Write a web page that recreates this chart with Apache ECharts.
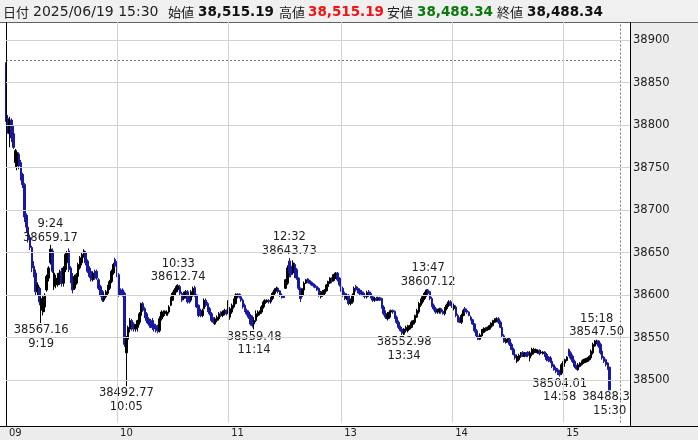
<!DOCTYPE html>
<html><head><meta charset="utf-8">
<script src="https://cdn.jsdelivr.net/npm/echarts@6/dist/echarts.min.js"></script>
<style>html,body{margin:0;padding:0;background:#fff}#c{width:698px;height:440px}</style>
</head><body><div id="c"></div><script>
// ---------- data ----------
const sessionRanges = [['09:00','11:30'],['12:30','15:24'],['15:30','15:30']];
const paddingRange = ['15:31','15:41'];
// each candle: [open, close, low, high]
const candles = [
[38871,38808,38804,38874],[38808,38798,38790,38812],[38790,38806,38774,38810],[38806,38785,38780,38808],[38790,38774,38772,38800],[38756,38770,38750,38772],[38752,38768,38747,38770],[38766,38752,38748,38768],[38756,38740,38735,38759],[38742,38730,38726,38744],
[38730,38692,38686,38732],[38694,38680,38674,38696],[38680,38668,38662,38684],[38668,38656,38653,38671],[38656,38632,38627,38658],[38634,38624,38621,38640],[38626,38604,38600,38630],[38604,38612,38600,38615],[38608,38592,38588,38610],[38582,38596,38567.16,38598],
[38580,38598,38576,38600],[38586,38600,38580,38602],[38606,38622,38604,38624],[38620,38632,38616,38634],[38638,38654,38636,38659.17],[38652,38628,38626,38655],[38610,38626,38606,38630],[38612,38620,38608,38624],[38612,38624,38610,38626],[38614,38626,38612,38630],
[38628,38614,38610,38632],[38614,38632,38610,38634],[38630,38648,38627,38650],[38638,38650,38635,38652],[38652,38630,38627,38655],[38632,38618,38614,38634],[38620,38606,38602,38626],[38608,38622,38606,38624],[38614,38624,38612,38626],[38622,38636,38620,38638],
[38632,38644,38630,38646],[38638,38648,38635,38650],[38646,38652,38644,38654],[38650,38638,38635,38652],[38640,38628,38626,38642],[38630,38622,38620,38634],[38628,38618,38616,38632],[38618,38626,38616,38628],[38628,38620,38618,38630],[38628,38620,38618,38630],
[38618,38608,38606,38620],[38610,38600,38598,38612],[38604,38594,38592,38606],[38594,38600,38592,38602],[38598,38604,38596,38606],[38602,38610,38600,38612],[38608,38616,38606,38618],[38616,38628,38614,38630],[38626,38636,38624,38638],[38642,38634,38632,38644],
[38638,38624,38621,38640],[38624,38600,38598,38626],[38606,38602,38600,38608],[38606,38600,38598,38608],[38602,38542,38539,38604],[38532,38550,38492.77,38552],[38548,38562,38545,38564],[38560,38570,38556,38573],[38570,38560,38558,38572],[38566,38560,38557,38568],
[38560,38564,38557,38566],[38562,38570,38557,38571],[38568,38578,38565,38580],[38576,38590,38574,38591],[38590,38582,38580,38592],[38584,38576,38573,38586],[38578,38570,38567,38580],[38572,38566,38564,38574],[38568,38562,38561,38572],[38570,38562,38559,38573],
[38566,38560,38557,38568],[38564,38558,38556,38566],[38562,38557,38555,38565],[38558,38572,38556,38575],[38572,38580,38570,38582],[38576,38580,38574,38582],[38578,38581,38576,38582],[38576,38580,38576,38582],[38580,38586,38578,38588],[38588,38596,38587,38598],
[38594,38602,38593,38604],[38600,38606,38599,38608],[38604,38610,38603,38612],[38606,38611,38604,38612.74],[38610,38602,38600,38612],[38602,38594,38592,38604],[38596,38602,38594,38604],[38598,38604,38596,38606],[38604,38592,38590,38606],[38596,38592,38590,38600],
[38594,38604,38592,38606],[38600,38608,38598,38610],[38609,38600,38598,38611],[38600,38586,38585,38601],[38588,38576,38574,38589],[38580,38576,38574,38584],[38576,38582,38574,38584],[38584,38594,38583,38596],[38594,38588,38586,38596],[38590,38582,38580,38592],
[38584,38578,38576,38586],[38578,38570,38568,38580],[38572,38568,38566,38574],[38566,38572,38565,38574],[38570,38574,38568,38576],[38572,38578,38570,38580],[38580,38576,38574,38581],[38576,38580,38574,38582],[38578,38582,38576,38584],[38582,38578,38576,38583],
[38580,38592,38578,38594],[38574,38584,38571,38586],[38580,38588,38578,38590],[38586,38594,38584,38596],[38590,38600,38589,38602],[38598,38601,38596,38602],[38601,38598,38596,38602],[38598,38594,38592,38600],[38594,38586,38584,38596],[38588,38582,38580,38590],
[38582,38578,38576,38584],[38580,38574,38572,38582],[38576,38566,38564,38578],[38572,38564,38562,38576],[38566,38570,38559.48,38574],[38570,38578,38568,38582],[38576,38580,38574,38582],[38578,38580,38576,38582],[38580,38586,38578,38588],[38586,38592,38584,38594],
[38590,38594,38588,38595],[38592,38594,38591,38595],[38594,38592,38590,38595],[38592,38596,38590,38598],[38596,38602,38594,38604],[38602,38606,38600,38608],[38606,38608,38604,38610],[38608,38604,38602,38609],[38605,38600,38598,38606],[38600,38598,38596,38602],
[38599,38597,38597,38599],
[38608,38618,38607,38619],[38614,38632,38612,38635],[38640,38626,38621,38643.73],[38634,38624,38621,38638],[38626,38638,38624,38641],[38636,38624,38620,38638],[38630,38620,38618,38632],[38620,38608,38606,38621],[38608,38596,38592,38609],[38600,38606,38598,38608],
[38606,38614,38604,38616],[38614,38618,38613,38619],[38619,38616,38614,38620],[38617,38614,38613,38618],[38615,38612,38611,38616],[38613,38611,38609,38614],[38612,38609,38608,38613],[38610,38606,38605,38611],[38608,38600,38598,38609],[38598,38603,38596,38605],
[38600,38604,38598,38606],[38602,38606,38600,38607],[38605,38612,38604,38613],[38610,38616,38608,38617],[38614,38620,38613,38621],[38620,38616,38614,38621],[38617,38624,38616,38625],[38620,38626,38619,38627],[38626,38618,38616,38627],[38620,38612,38610,38621],
[38612,38606,38604,38614],[38608,38600,38598,38610],[38602,38596,38594,38604],[38596,38600,38594,38602],[38600,38590,38588,38601],[38590,38594,38588,38596],[38592,38600,38590,38602],[38600,38608,38598,38610],[38610,38606,38604,38612],[38608,38604,38602,38610],
[38606,38602,38600,38608],[38604,38601,38600,38606],[38602,38599,38598,38604],[38600,38598,38596,38602],[38598,38603,38596,38605],[38604,38600,38598,38606],[38602,38598,38596,38604],[38598,38594,38592,38600],[38594,38596,38592,38598],[38596,38594,38593,38598],
[38594,38597,38593,38598],[38597,38594,38593,38598],[38596,38586,38584,38597],[38586,38578,38576,38588],[38578,38574,38572,38582],[38572,38578,38570,38580],[38574,38580,38572,38582],[38580,38582,38578,38583],[38582,38580,38578,38583],[38581,38574,38572,38582],
[38574,38568,38566,38576],[38568,38562,38560,38570],[38562,38558,38557,38564],[38560,38555,38553,38562],[38554,38560,38552.98,38561],[38558,38562,38556,38564],[38558,38563,38556,38565],[38560,38564,38559,38565],[38562,38568,38561,38570],[38566,38570,38565,38571],
[38568,38576,38566,38577],[38574,38582,38573,38584],[38580,38590,38578,38592],[38588,38594,38586,38596],[38592,38598,38590,38600],[38596,38602,38594,38604],[38600,38606,38598,38606.5],[38606,38602,38600,38607.12],[38604,38596,38594,38605],[38596,38588,38586,38598],
[38588,38584,38582,38590],[38584,38580,38578,38586],[38580,38582,38578,38584],[38580,38584,38578,38585],[38584,38580,38578,38585],[38581,38578,38577,38583],[38578,38584,38576,38586],[38584,38588,38582,38590],[38588,38592,38586,38594],[38592,38588,38587,38594],
[38590,38586,38585,38592],[38584,38588,38582,38590],[38586,38576,38574,38588],[38576,38570,38568,38578],[38572,38568,38567,38574],[38568,38576,38566,38578],[38576,38582,38575,38584],[38584,38580,38578,38586],[38582,38580,38578,38584],[38580,38576,38575,38581],
[38574,38571,38570,38576],[38571,38566,38565,38572],[38566,38558,38556,38567],[38558,38552,38550,38560],[38552,38548,38547,38554],[38548,38553,38547,38555],[38552,38558,38551,38560],[38556,38560,38555,38562],[38558,38561,38557,38562],[38559,38562,38558,38563],
[38560,38564,38559,38565],[38562,38567,38561,38568],[38564,38570,38563,38571],[38568,38572,38567,38573],[38570,38572,38568,38574],[38572,38568,38566,38574],[38568,38562,38561,38570],[38562,38552,38550,38564],[38552,38545,38544,38554],[38544,38548,38543,38550],
[38546,38549,38544,38550],[38548,38542,38540,38550],[38542,38536,38535,38544],[38536,38530,38529,38538],[38530,38526,38524,38532],[38522,38528,38520,38530],[38524,38529,38522,38531],[38528,38532,38526,38533],[38532,38528,38527,38534],[38528,38532,38527,38533],
[38532,38529,38527,38533],[38533,38529,38527,38534],[38526,38532,38522,38534],[38530,38536,38528,38538],[38532,38536,38530,38538],[38533,38536,38532,38537],[38532,38535,38531,38536],[38535,38531,38529,38536],[38532,38533,38531,38535],[38531,38533,38530,38534],
[38533,38528,38527,38534],[38530,38524,38522,38532],[38527,38523,38521,38528],[38526,38522,38520,38528],[38522,38516,38514,38523],[38518,38512,38511,38519],[38514,38510,38508,38516],[38512,38508,38506,38514],[38510,38506,38504.01,38512],[38508,38518,38506,38520],
[38516,38522,38514,38524],[38520,38524,38519,38525],[38523,38527,38522,38528],[38536,38530,38528,38537],[38532,38526,38524,38534],[38528,38522,38520,38530],[38522,38516,38514,38524],[38516,38513,38512,38518],[38512,38518,38511,38520],[38516,38520,38515,38521],
[38518,38522,38517,38523],[38520,38524,38519,38525],[38521,38525,38520,38526],[38522,38526,38521,38527],[38524,38528,38523,38529],[38526,38534,38525,38536],[38532,38542,38530,38544],[38540,38546,38539,38547],[38544,38546,38542,38547.5],[38546,38540,38538,38547],
[38542,38532,38530,38544],[38534,38526,38524,38535],[38527,38522,38520,38528],[38524,38518,38516,38525],[38520,38514,38512,38521],[38515.19,38488.34,38488.34,38515.19]
];
const hourTicks = ['09:00','10:00','11:00','13:00','14:00','15:00'];
const yTickValues = [38500,38550,38600,38650,38700,38750,38800,38850,38900];
const prevLineValue = 38876;
const cursorTime = '15:36';
const markTimes  = ['09:24','10:33','12:32','13:47','15:18','09:19','10:05','11:14','13:34','14:58','15:30'];
const markValues = [38659.17,38612.74,38643.73,38607.12,38547.50,38567.16,38492.77,38559.48,38552.98,38504.01,38488.34];
const markKinds  = ['high','high','high','high','high','low','low','low','low','low','low'];
const headerLabels = ['日付','始値','高値','安値','終値'];
const headerValues = ['2025/06/19 15:30','38,515.19','38,515.19','38,488.34','38,488.34'];
const headerColors = ['#222222','#111111','#f01414','#0a780a','#111111'];

// ---------- build ----------
function minuteRange(a, b) {
  const out = [];
  let [h, m] = a.split(':').map(Number);
  const [eh, em] = b.split(':').map(Number);
  while (h * 60 + m <= eh * 60 + em) {
    out.push(String(h).padStart(2, '0') + ':' + String(m).padStart(2, '0'));
    m++; if (m === 60) { m = 0; h++; }
  }
  return out;
}
const times = [].concat(...sessionRanges.map(r => minuteRange(r[0], r[1])));
const categories = times.concat(minuteRange(paddingRange[0], paddingRange[1]));
if (times.length !== candles.length) console.error('length mismatch', times.length, candles.length);

const UP = '#000000', DOWN = '#1818a0';
const FONT = '"DejaVu Sans", sans-serif';

const markData = markTimes.map((t, i) => {
  const v = markValues[i];
  const tl = t.replace(/^0/, '');
  const high = markKinds[i] === 'high';
  return {
    coord: [t, v],
    symbol: 'rect', symbolSize: [1, 1],
    itemStyle: { color: 'rgba(0,0,0,0)' },
    label: {
      show: true,
      position: high ? 'top' : 'bottom',
      distance: 0,
      formatter: high ? (tl + '\n' + v.toFixed(2)) : (v.toFixed(2) + '\n' + tl),
      fontFamily: FONT, fontSize: 11.5, lineHeight: 13.5, color: '#222', align: 'center'
    }
  };
});

// header graphics
const labelX = [3, 168, 279, 387, 497];
const valueX = [33, 198, 308, 417, 527];
const headerEls = [];
headerLabels.forEach((lab, i) => {
  headerEls.push({ type: 'text', z: 30, style: { text: lab, x: labelX[i], y: 12, verticalAlign: 'middle',
    font: '13px "Noto Sans CJK JP"', fill: '#222' } });
  headerEls.push({ type: 'text', z: 30, style: { text: headerValues[i], x: valueX[i], y: 12, verticalAlign: 'middle',
    font: (i === 0 ? 'normal 14px ' : 'bold 13.5px ') + FONT, fill: headerColors[i] } });
});

const chart = echarts.init(document.getElementById('c'), null, { renderer: 'canvas' });
chart.setOption({
  animation: false,
  backgroundColor: '#ffffff',
  grid: { left: 6, right: 68, top: 22, bottom: 17.5, containLabel: false },
  xAxis: {
    type: 'category', data: categories, boundaryGap: false, z: 20,
    axisLine: { show: false }, axisTick: { show: false },
    axisLabel: {
      interval: (idx, val) => hourTicks.includes(val),
      formatter: v => v.slice(0, 2),
      fontFamily: FONT, fontSize: 10, color: '#222', align: 'left', margin: 6,
      padding: [0, 0, 0, 3]
    },
    splitLine: { show: true, interval: (idx, val) => hourTicks.includes(val) && val !== '09:00',
      lineStyle: { color: '#d2d2d2', width: 1 } }
  },
  yAxis: {
    type: 'value', position: 'right', min: 38450, max: 38921.5, interval: 50, scale: true, z: 20,
    axisLine: { show: false }, axisTick: { show: false },
    axisLabel: { formatter: v => (yTickValues.includes(v) ? String(v) : ''),
      fontFamily: FONT, fontSize: 11.5, color: '#222', margin: 3 },
    splitLine: { show: true, showMinLine: false, showMaxLine: false, lineStyle: { color: '#d2d2d2', width: 1 } }
  },
  series: [{
    type: 'candlestick', data: candles, barWidth: 2,
    itemStyle: { color: UP, color0: DOWN, borderColor: UP, borderColor0: DOWN, borderWidth: 1 },
    markPoint: { silent: true, data: markData },
    markLine: {
      silent: true, symbol: 'none', label: { show: false },
      lineStyle: { color: '#7a7a7a', type: [2, 2], width: 1 },
      data: [
        [{ coord: [times[0], prevLineValue] }, { coord: [cursorTime, prevLineValue] }],
        { xAxis: cursorTime }
      ]
    }
  }],
  graphic: [
    { type: 'rect', z: 10, silent: true, shape: { x: 0, y: 0, width: 698, height: 22 }, style: { fill: '#f0f0f0' } },
    { type: 'rect', z: 10, silent: true, shape: { x: 631, y: 22, width: 67, height: 418 }, style: { fill: '#ececec' } },
    { type: 'rect', z: 10, silent: true, shape: { x: 0, y: 426, width: 698, height: 14 }, style: { fill: '#ececec' } },
    { type: 'line', z: 11, silent: true, shape: { x1: 0, y1: 22.5, x2: 698, y2: 22.5 }, style: { stroke: '#606060', lineWidth: 1 } },
    { type: 'line', z: 11, silent: true, shape: { x1: 6.5, y1: 22, x2: 6.5, y2: 426 }, style: { stroke: '#000', lineWidth: 1 } },
    { type: 'line', z: 11, silent: true, shape: { x1: 630.5, y1: 22, x2: 630.5, y2: 426 }, style: { stroke: '#000', lineWidth: 1 } },
    { type: 'line', z: 11, silent: true, shape: { x1: 0, y1: 426.5, x2: 698, y2: 426.5 }, style: { stroke: '#000', lineWidth: 1 } }
  ].concat(headerEls)
});
</script></body></html>
